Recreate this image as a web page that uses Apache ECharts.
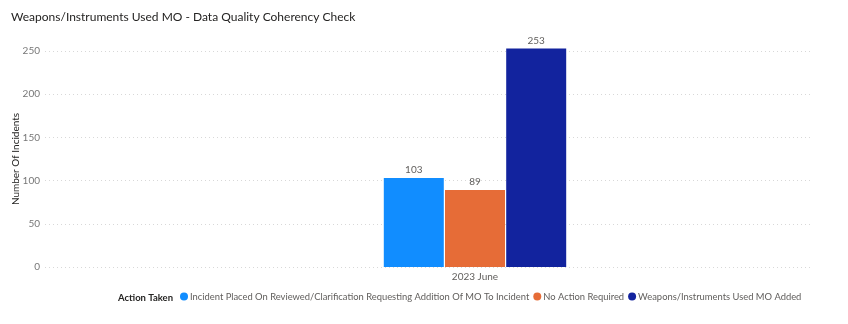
<!DOCTYPE html>
<html>
<head>
<meta charset="utf-8">
<style>
  html, body { margin: 0; padding: 0; background: #fff; }
  #chart { width: 848px; height: 324px; }
</style>
<script src="https://cdn.jsdelivr.net/npm/echarts@6/dist/echarts.min.js"></script>
</head>
<body>
<div id="chart"></div>
<script>
// Data
const categories = ['2023 June'];
const seriesNames = [
  'Incident Placed On Reviewed/Clarification Requesting Addition Of MO To Incident',
  'No Action Required',
  'Weapons/Instruments Used MO Added'
];
const seriesValues = [[103], [89], [253]];
const seriesColors = ['#118DFF', '#E66C37', '#12239E'];
const yTicks = [0, 50, 100, 150, 200, 250];

const font = 'Lato, "Noto Sans", sans-serif';
const chart = echarts.init(document.getElementById('chart'), null, { renderer: 'canvas' });

const series = seriesNames.map((name, i) => ({
  name: name,
  type: 'bar',
  xAxisIndex: 1,
  yAxisIndex: 1,
  data: seriesValues[i],
  barWidth: 60,
  barGap: '2%',
  itemStyle: { color: seriesColors[i] },
  label: {
    show: true,
    position: 'top',
    distance: 3,
    color: '#605E5C',
    fontSize: 10,
    fontFamily: font
  }
}));

chart.setOption({
  animation: false,
  textStyle: { fontFamily: font },
  title: {
    text: 'Weapons/Instruments Used MO - Data Quality Coherency Check',
    left: 6,
    top: 6,
    textStyle: { fontSize: 12, fontWeight: 'normal', color: '#252423', fontFamily: font }
  },
  graphic: [{
    type: 'text',
    left: 118,
    top: 293,
    style: { text: 'Action Taken', fontSize: 9.5, fontWeight: 'bold', fill: '#252423', fontFamily: font }
  }],
  legend: {
    left: 180,
    right: 0,
    top: 292,
    icon: 'circle',
    itemWidth: 8,
    itemHeight: 8,
    itemGap: 4,
    padding: 0,
    textStyle: { fontSize: 9.4, color: '#605E5C', padding: [0, 0, 0, -3], fontFamily: font },
    data: seriesNames
  },
  grid: [
    // gridlines + y axis
    { left: 45, right: 36, top: 51, bottom: 57, containLabel: false },
    // bars
    { left: 138, right: 36, top: 267 - 260 * 216 / 250, bottom: 57, containLabel: false }
  ],
  xAxis: [
    {
      gridIndex: 0, type: 'category', data: [''],
      axisLine: { show: false }, axisTick: { show: false }, axisLabel: { show: false }
    },
    {
      gridIndex: 1, type: 'category', data: categories,
      axisLine: { show: false }, axisTick: { show: false },
      axisLabel: { color: '#605E5C', fontSize: 10, margin: 5 }
    }
  ],
  yAxis: [
    {
      gridIndex: 0, type: 'value', min: yTicks[0], max: yTicks[yTicks.length - 1], interval: 50,
      name: 'Number Of Incidents',
      nameLocation: 'middle',
      nameGap: 24,
      nameMoveOverlap: false,
      nameTextStyle: { color: '#252423', fontSize: 10 },
      axisLine: { show: false }, axisTick: { show: false },
      axisLabel: { color: '#777', fontSize: 10, margin: 5 },
      splitLine: { show: true, lineStyle: { color: '#d8d8d8', type: [1, 3], width: 1 } }
    },
    {
      gridIndex: 1, type: 'value', min: 0, max: 260,
      axisLine: { show: false }, axisTick: { show: false },
      axisLabel: { show: false }, splitLine: { show: false }
    }
  ],
  series: series
});
</script>
</body>
</html>
